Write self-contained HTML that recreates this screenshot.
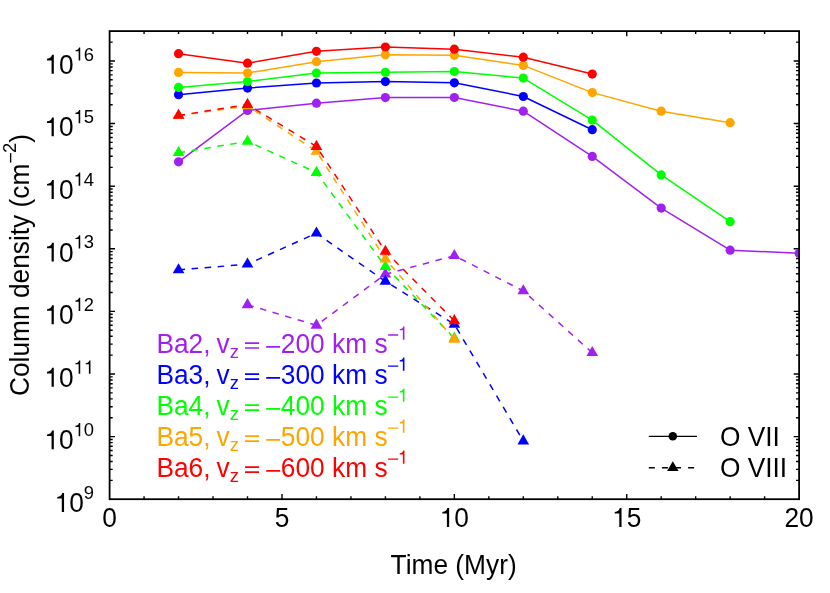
<!DOCTYPE html>
<html><head><meta charset="utf-8"><title>Column density</title>
<style>html,body{margin:0;padding:0;background:#fff;font-family:"Liberation Sans",sans-serif}svg{display:block}</style>
</head><body>
<svg width="830" height="593" viewBox="0 0 830 593">
<defs><clipPath id="pc"><rect x="109.6" y="31.1" width="689.50" height="468.10"/></clipPath></defs>
<rect width="830" height="593" fill="#fff"/>
<path d="M144.07 499.20v-3.0M144.07 31.10v3.0M178.55 499.20v-3.0M178.55 31.10v3.0M213.03 499.20v-3.0M213.03 31.10v3.0M247.50 499.20v-3.0M247.50 31.10v3.0M281.98 499.20v-5.2M281.98 31.10v5.2M316.45 499.20v-3.0M316.45 31.10v3.0M350.93 499.20v-3.0M350.93 31.10v3.0M385.40 499.20v-3.0M385.40 31.10v3.0M419.88 499.20v-3.0M419.88 31.10v3.0M454.35 499.20v-5.2M454.35 31.10v5.2M488.83 499.20v-3.0M488.83 31.10v3.0M523.30 499.20v-3.0M523.30 31.10v3.0M557.77 499.20v-3.0M557.77 31.10v3.0M592.25 499.20v-3.0M592.25 31.10v3.0M626.73 499.20v-5.2M626.73 31.10v5.2M661.20 499.20v-3.0M661.20 31.10v3.0M695.68 499.20v-3.0M695.68 31.10v3.0M730.15 499.20v-3.0M730.15 31.10v3.0M764.62 499.20v-3.0M764.62 31.10v3.0M109.60 480.35h3.1M799.10 480.35h-3.1M109.60 469.33h3.1M799.10 469.33h-3.1M109.60 461.51h3.1M799.10 461.51h-3.1M109.60 455.44h3.1M799.10 455.44h-3.1M109.60 450.48h3.1M799.10 450.48h-3.1M109.60 446.29h3.1M799.10 446.29h-3.1M109.60 442.66h3.1M799.10 442.66h-3.1M109.60 439.46h3.1M799.10 439.46h-3.1M109.60 436.60h5.4M799.10 436.60h-5.4M109.60 417.75h3.1M799.10 417.75h-3.1M109.60 406.73h3.1M799.10 406.73h-3.1M109.60 398.90h3.1M799.10 398.90h-3.1M109.60 392.84h3.1M799.10 392.84h-3.1M109.60 387.88h3.1M799.10 387.88h-3.1M109.60 383.69h3.1M799.10 383.69h-3.1M109.60 380.06h3.1M799.10 380.06h-3.1M109.60 376.86h3.1M799.10 376.86h-3.1M109.60 373.99h5.4M799.10 373.99h-5.4M109.60 355.15h3.1M799.10 355.15h-3.1M109.60 344.12h3.1M799.10 344.12h-3.1M109.60 336.30h3.1M799.10 336.30h-3.1M109.60 330.23h3.1M799.10 330.23h-3.1M109.60 325.28h3.1M799.10 325.28h-3.1M109.60 321.08h3.1M799.10 321.08h-3.1M109.60 317.45h3.1M799.10 317.45h-3.1M109.60 314.25h3.1M799.10 314.25h-3.1M109.60 311.39h5.4M799.10 311.39h-5.4M109.60 292.54h3.1M799.10 292.54h-3.1M109.60 281.52h3.1M799.10 281.52h-3.1M109.60 273.70h3.1M799.10 273.70h-3.1M109.60 267.63h3.1M799.10 267.63h-3.1M109.60 262.67h3.1M799.10 262.67h-3.1M109.60 258.48h3.1M799.10 258.48h-3.1M109.60 254.85h3.1M799.10 254.85h-3.1M109.60 251.65h3.1M799.10 251.65h-3.1M109.60 248.78h5.4M799.10 248.78h-5.4M109.60 229.94h3.1M799.10 229.94h-3.1M109.60 218.91h3.1M799.10 218.91h-3.1M109.60 211.09h3.1M799.10 211.09h-3.1M109.60 205.02h3.1M799.10 205.02h-3.1M109.60 200.07h3.1M799.10 200.07h-3.1M109.60 195.88h3.1M799.10 195.88h-3.1M109.60 192.25h3.1M799.10 192.25h-3.1M109.60 189.04h3.1M799.10 189.04h-3.1M109.60 186.18h5.4M799.10 186.18h-5.4M109.60 167.33h3.1M799.10 167.33h-3.1M109.60 156.31h3.1M799.10 156.31h-3.1M109.60 148.49h3.1M799.10 148.49h-3.1M109.60 142.42h3.1M799.10 142.42h-3.1M109.60 137.46h3.1M799.10 137.46h-3.1M109.60 133.27h3.1M799.10 133.27h-3.1M109.60 129.64h3.1M799.10 129.64h-3.1M109.60 126.44h3.1M799.10 126.44h-3.1M109.60 123.57h5.4M799.10 123.57h-5.4M109.60 104.73h3.1M799.10 104.73h-3.1M109.60 93.70h3.1M799.10 93.70h-3.1M109.60 85.88h3.1M799.10 85.88h-3.1M109.60 79.82h3.1M799.10 79.82h-3.1M109.60 74.86h3.1M799.10 74.86h-3.1M109.60 70.67h3.1M799.10 70.67h-3.1M109.60 67.04h3.1M799.10 67.04h-3.1M109.60 63.83h3.1M799.10 63.83h-3.1M109.60 60.97h5.4M799.10 60.97h-5.4M109.60 42.12h3.1M799.10 42.12h-3.1" stroke="#000" stroke-width="1.4" fill="none"/>
<g clip-path="url(#pc)">
<polyline points="178.55,161.80 247.50,110.40 316.45,103.20 385.40,97.60 454.35,97.50 523.30,111.20 592.25,156.40 661.20,208.10 730.15,250.20 799.10,253.20" fill="none" stroke="#a020f0" stroke-width="1.5" stroke-linejoin="round"/>
<circle cx="178.55" cy="161.80" r="4.6" fill="#a020f0"/>
<circle cx="247.50" cy="110.40" r="4.6" fill="#a020f0"/>
<circle cx="316.45" cy="103.20" r="4.6" fill="#a020f0"/>
<circle cx="385.40" cy="97.60" r="4.6" fill="#a020f0"/>
<circle cx="454.35" cy="97.50" r="4.6" fill="#a020f0"/>
<circle cx="523.30" cy="111.20" r="4.6" fill="#a020f0"/>
<circle cx="592.25" cy="156.40" r="4.6" fill="#a020f0"/>
<circle cx="661.20" cy="208.10" r="4.6" fill="#a020f0"/>
<circle cx="730.15" cy="250.20" r="4.6" fill="#a020f0"/>
<circle cx="799.10" cy="253.20" r="4.6" fill="#a020f0"/>
<polyline points="247.50,304.80 316.45,325.30 385.40,274.20 454.35,255.70 523.30,290.90 592.25,352.70" fill="none" stroke="#a020f0" stroke-width="1.5" stroke-dasharray="6.5 6.6"/>
<polygon points="247.50,298.05 241.65,308.18 253.35,308.18" fill="#a020f0"/>
<polygon points="316.45,318.55 310.60,328.68 322.30,328.68" fill="#a020f0"/>
<polygon points="385.40,267.45 379.55,277.58 391.25,277.58" fill="#a020f0"/>
<polygon points="454.35,248.95 448.50,259.08 460.20,259.08" fill="#a020f0"/>
<polygon points="523.30,284.15 517.45,294.28 529.15,294.28" fill="#a020f0"/>
<polygon points="592.25,345.95 586.40,356.08 598.10,356.08" fill="#a020f0"/>
<polyline points="178.55,94.70 247.50,88.10 316.45,83.00 385.40,81.60 454.35,82.80 523.30,96.50 592.25,129.70" fill="none" stroke="#0000ff" stroke-width="1.5" stroke-linejoin="round"/>
<circle cx="178.55" cy="94.70" r="4.6" fill="#0000ff"/>
<circle cx="247.50" cy="88.10" r="4.6" fill="#0000ff"/>
<circle cx="316.45" cy="83.00" r="4.6" fill="#0000ff"/>
<circle cx="385.40" cy="81.60" r="4.6" fill="#0000ff"/>
<circle cx="454.35" cy="82.80" r="4.6" fill="#0000ff"/>
<circle cx="523.30" cy="96.50" r="4.6" fill="#0000ff"/>
<circle cx="592.25" cy="129.70" r="4.6" fill="#0000ff"/>
<polyline points="178.55,269.90 247.50,264.20 316.45,233.20 385.40,281.30 454.35,324.30 523.30,441.00" fill="none" stroke="#0000ff" stroke-width="1.5" stroke-dasharray="6.5 6.6"/>
<polygon points="178.55,263.15 172.70,273.28 184.40,273.28" fill="#0000ff"/>
<polygon points="247.50,257.45 241.65,267.58 253.35,267.58" fill="#0000ff"/>
<polygon points="316.45,226.45 310.60,236.58 322.30,236.58" fill="#0000ff"/>
<polygon points="385.40,274.55 379.55,284.68 391.25,284.68" fill="#0000ff"/>
<polygon points="454.35,317.55 448.50,327.68 460.20,327.68" fill="#0000ff"/>
<polygon points="523.30,434.25 517.45,444.38 529.15,444.38" fill="#0000ff"/>
<polyline points="178.55,87.40 247.50,81.50 316.45,73.00 385.40,72.30 454.35,71.50 523.30,78.10 592.25,120.10 661.20,174.90 730.15,221.70" fill="none" stroke="#00ff00" stroke-width="1.5" stroke-linejoin="round"/>
<circle cx="178.55" cy="87.40" r="4.6" fill="#00ff00"/>
<circle cx="247.50" cy="81.50" r="4.6" fill="#00ff00"/>
<circle cx="316.45" cy="73.00" r="4.6" fill="#00ff00"/>
<circle cx="385.40" cy="72.30" r="4.6" fill="#00ff00"/>
<circle cx="454.35" cy="71.50" r="4.6" fill="#00ff00"/>
<circle cx="523.30" cy="78.10" r="4.6" fill="#00ff00"/>
<circle cx="592.25" cy="120.10" r="4.6" fill="#00ff00"/>
<circle cx="661.20" cy="174.90" r="4.6" fill="#00ff00"/>
<circle cx="730.15" cy="221.70" r="4.6" fill="#00ff00"/>
<polyline points="178.55,152.70 247.50,141.40 316.45,172.50 385.40,266.60 454.35,338.30" fill="none" stroke="#00ff00" stroke-width="1.5" stroke-dasharray="6.5 6.6"/>
<polygon points="178.55,145.95 172.70,156.08 184.40,156.08" fill="#00ff00"/>
<polygon points="247.50,134.65 241.65,144.78 253.35,144.78" fill="#00ff00"/>
<polygon points="316.45,165.75 310.60,175.88 322.30,175.88" fill="#00ff00"/>
<polygon points="385.40,259.85 379.55,269.98 391.25,269.98" fill="#00ff00"/>
<polygon points="454.35,331.55 448.50,341.68 460.20,341.68" fill="#00ff00"/>
<polyline points="178.55,72.40 247.50,73.00 316.45,61.70 385.40,54.80 454.35,55.30 523.30,65.40 592.25,92.60 661.20,111.20 730.15,122.70" fill="none" stroke="#ffa500" stroke-width="1.5" stroke-linejoin="round"/>
<circle cx="178.55" cy="72.40" r="4.6" fill="#ffa500"/>
<circle cx="247.50" cy="73.00" r="4.6" fill="#ffa500"/>
<circle cx="316.45" cy="61.70" r="4.6" fill="#ffa500"/>
<circle cx="385.40" cy="54.80" r="4.6" fill="#ffa500"/>
<circle cx="454.35" cy="55.30" r="4.6" fill="#ffa500"/>
<circle cx="523.30" cy="65.40" r="4.6" fill="#ffa500"/>
<circle cx="592.25" cy="92.60" r="4.6" fill="#ffa500"/>
<circle cx="661.20" cy="111.20" r="4.6" fill="#ffa500"/>
<circle cx="730.15" cy="122.70" r="4.6" fill="#ffa500"/>
<polyline points="178.55,115.70 247.50,105.90 316.45,151.30 385.40,259.00 454.35,339.30" fill="none" stroke="#ffa500" stroke-width="1.5" stroke-dasharray="6.5 6.6"/>
<polygon points="178.55,108.95 172.70,119.08 184.40,119.08" fill="#ffa500"/>
<polygon points="247.50,99.15 241.65,109.28 253.35,109.28" fill="#ffa500"/>
<polygon points="316.45,144.55 310.60,154.68 322.30,154.68" fill="#ffa500"/>
<polygon points="385.40,252.25 379.55,262.38 391.25,262.38" fill="#ffa500"/>
<polygon points="454.35,332.55 448.50,342.68 460.20,342.68" fill="#ffa500"/>
<polyline points="178.55,53.70 247.50,63.20 316.45,51.30 385.40,47.00 454.35,49.20 523.30,57.20 592.25,74.10" fill="none" stroke="#ff0000" stroke-width="1.5" stroke-linejoin="round"/>
<circle cx="178.55" cy="53.70" r="4.6" fill="#ff0000"/>
<circle cx="247.50" cy="63.20" r="4.6" fill="#ff0000"/>
<circle cx="316.45" cy="51.30" r="4.6" fill="#ff0000"/>
<circle cx="385.40" cy="47.00" r="4.6" fill="#ff0000"/>
<circle cx="454.35" cy="49.20" r="4.6" fill="#ff0000"/>
<circle cx="523.30" cy="57.20" r="4.6" fill="#ff0000"/>
<circle cx="592.25" cy="74.10" r="4.6" fill="#ff0000"/>
<polyline points="178.55,115.40 247.50,104.60 316.45,146.50 385.40,251.40 454.35,320.80" fill="none" stroke="#ff0000" stroke-width="1.5" stroke-dasharray="6.5 6.6"/>
<polygon points="178.55,108.65 172.70,118.78 184.40,118.78" fill="#ff0000"/>
<polygon points="247.50,97.85 241.65,107.98 253.35,107.98" fill="#ff0000"/>
<polygon points="316.45,139.75 310.60,149.88 322.30,149.88" fill="#ff0000"/>
<polygon points="385.40,244.65 379.55,254.78 391.25,254.78" fill="#ff0000"/>
<polygon points="454.35,314.05 448.50,324.18 460.20,324.18" fill="#ff0000"/>
</g>
<rect x="109.6" y="31.1" width="689.50" height="468.10" fill="none" stroke="#000" stroke-width="1.8"/>
<g font-family="'Liberation Sans', sans-serif" font-size="26.3" fill="#000" opacity="0.999"><text transform="translate(94.10 511.95) scale(1 1.04)" text-anchor="end">  0<tspan font-size="18.4" dy="-12.60">9</tspan></text>
<text transform="translate(94.10 449.35) scale(1 1.04)" text-anchor="end">  0<tspan font-size="18.4" dy="-12.60">  0</tspan></text>
<text transform="translate(94.10 386.74) scale(1 1.04)" text-anchor="end">  0<tspan font-size="18.4" dy="-12.60">    </tspan></text>
<text transform="translate(94.10 324.14) scale(1 1.04)" text-anchor="end">  0<tspan font-size="18.4" dy="-12.60">  2</tspan></text>
<text transform="translate(94.10 261.53) scale(1 1.04)" text-anchor="end">  0<tspan font-size="18.4" dy="-12.60">  3</tspan></text>
<text transform="translate(94.10 198.93) scale(1 1.04)" text-anchor="end">  0<tspan font-size="18.4" dy="-12.60">  4</tspan></text>
<text transform="translate(94.10 136.32) scale(1 1.04)" text-anchor="end">  0<tspan font-size="18.4" dy="-12.60">  5</tspan></text>
<text transform="translate(94.10 73.72) scale(1 1.04)" text-anchor="end">  0<tspan font-size="18.4" dy="-12.60">  6</tspan></text>
<text transform="translate(109.60 526.90) scale(1 1.04)" text-anchor="middle">0</text>
<text transform="translate(281.98 526.90) scale(1 1.04)" text-anchor="middle">5</text>
<text transform="translate(454.35 526.90) scale(1 1.04)" text-anchor="middle">  0</text>
<text transform="translate(626.73 526.90) scale(1 1.04)" text-anchor="middle">  5</text>
<text transform="translate(799.10 526.90) scale(1 1.04)" text-anchor="middle">20</text>
<text transform="translate(390.60 573.70) scale(1 1.04)" >Time (Myr)</text>
<text transform="translate(29.15 396.0) rotate(-90) scale(1 1.04)">Column density (cm<tspan font-size="18.4" dy="-12.60" dx="10.75">2</tspan><tspan dy="12.60">)</tspan></text>
<text transform="translate(0.00 352.80) scale(1 1.04)" fill="#a020f0"><tspan x="156.44" y="0">Ba2,</tspan><tspan x="216.5" y="0">v</tspan><tspan x="229.85" y="5.10" font-size="18.4">z</tspan><tspan x="280.86" y="0">200 km s</tspan></text>
<text transform="translate(0.00 383.83) scale(1 1.04)" fill="#0000ff"><tspan x="156.44" y="0">Ba3,</tspan><tspan x="216.5" y="0">v</tspan><tspan x="229.85" y="5.10" font-size="18.4">z</tspan><tspan x="280.86" y="0">300 km s</tspan></text>
<text transform="translate(0.00 414.86) scale(1 1.04)" fill="#00ff00"><tspan x="156.44" y="0">Ba4,</tspan><tspan x="216.5" y="0">v</tspan><tspan x="229.85" y="5.10" font-size="18.4">z</tspan><tspan x="280.86" y="0">400 km s</tspan></text>
<text transform="translate(0.00 445.89) scale(1 1.04)" fill="#ffa500"><tspan x="156.44" y="0">Ba5,</tspan><tspan x="216.5" y="0">v</tspan><tspan x="229.85" y="5.10" font-size="18.4">z</tspan><tspan x="280.86" y="0">500 km s</tspan></text>
<text transform="translate(0.00 476.92) scale(1 1.04)" fill="#ff0000"><tspan x="156.44" y="0">Ba6,</tspan><tspan x="216.5" y="0">v</tspan><tspan x="229.85" y="5.10" font-size="18.4">z</tspan><tspan x="280.86" y="0">600 km s</tspan></text>
<text transform="translate(719.90 445.75) scale(1 1.04)" >O VII</text>
<text transform="translate(719.90 476.80) scale(1 1.04)" >O VIII</text>
<path d="M61.79 511.95L61.79 498.61L57.27 498.61L57.27 496.98C60.27 496.64 61.50 495.84 62.29 493.07L64.06 493.07L64.06 511.95Z"/>
<path d="M51.56 449.35L51.56 436.00L47.04 436.00L47.04 434.38C50.03 434.03 51.27 433.23 52.06 430.46L53.82 430.46L53.82 449.35Z"/>
<path d="M78.66 436.25L78.66 426.91L75.49 426.91L75.49 425.77C77.59 425.53 78.45 424.97 79.01 423.03L80.24 423.03L80.24 436.25Z"/>
<path d="M51.56 386.74L51.56 373.40L47.04 373.40L47.04 371.77C50.03 371.43 51.27 370.63 52.06 367.86L53.82 367.86L53.82 386.74Z"/>
<path d="M78.66 373.64L78.66 364.31L75.49 364.31L75.49 363.17C77.59 362.93 78.45 362.37 79.01 360.43L80.24 360.43L80.24 373.64Z"/>
<path d="M88.89 373.64L88.89 364.31L85.73 364.31L85.73 363.17C87.82 362.93 88.69 362.37 89.24 360.43L90.47 360.43L90.47 373.64Z"/>
<path d="M51.56 324.14L51.56 310.79L47.04 310.79L47.04 309.17C50.03 308.82 51.27 308.02 52.06 305.25L53.82 305.25L53.82 324.14Z"/>
<path d="M78.66 311.04L78.66 301.70L75.49 301.70L75.49 300.57C77.59 300.32 78.45 299.76 79.01 297.83L80.24 297.83L80.24 311.04Z"/>
<path d="M51.56 261.53L51.56 248.19L47.04 248.19L47.04 246.56C50.03 246.22 51.27 245.42 52.06 242.65L53.82 242.65L53.82 261.53Z"/>
<path d="M78.66 248.43L78.66 239.10L75.49 239.10L75.49 237.96C77.59 237.72 78.45 237.16 79.01 235.22L80.24 235.22L80.24 248.43Z"/>
<path d="M51.56 198.93L51.56 185.58L47.04 185.58L47.04 183.96C50.03 183.61 51.27 182.81 52.06 180.05L53.82 180.05L53.82 198.93Z"/>
<path d="M78.66 185.83L78.66 176.49L75.49 176.49L75.49 175.36C77.59 175.11 78.45 174.56 79.01 172.62L80.24 172.62L80.24 185.83Z"/>
<path d="M51.56 136.32L51.56 122.98L47.04 122.98L47.04 121.36C50.03 121.01 51.27 120.21 52.06 117.44L53.82 117.44L53.82 136.32Z"/>
<path d="M78.66 123.22L78.66 113.89L75.49 113.89L75.49 112.75C77.59 112.51 78.45 111.95 79.01 110.01L80.24 110.01L80.24 123.22Z"/>
<path d="M51.56 73.72L51.56 60.38L47.04 60.38L47.04 58.75C50.03 58.41 51.27 57.61 52.06 54.84L53.82 54.84L53.82 73.72Z"/>
<path d="M78.66 60.62L78.66 51.28L75.49 51.28L75.49 50.15C77.59 49.91 78.45 49.35 79.01 47.41L80.24 47.41L80.24 60.62Z"/>
<path d="M446.90 526.90L446.90 513.56L442.38 513.56L442.38 511.93C445.38 511.59 446.61 510.79 447.40 508.02L449.16 508.02L449.16 526.90Z"/>
<path d="M619.28 526.90L619.28 513.56L614.75 513.56L614.75 511.93C617.75 511.59 618.99 510.79 619.78 508.02L621.54 508.02L621.54 526.90Z"/>
<rect x="9.95" y="153.1" width="1.35" height="9.5"/>
<path d="M402.87 339.70L402.87 330.36L399.71 330.36L399.71 329.23C401.81 328.99 402.67 328.43 403.22 326.49L404.46 326.49L404.46 339.70Z" fill="#a020f0"/>
<path fill="#a020f0" d="M245 342.25h14.1v1.7h-14.1zM245 347.15h14.1v1.7h-14.1zM266.2 345.95h13.9v1.7h-13.9zM388.1 334.35h10.1v1.3h-10.1z"/>
<path d="M402.87 370.73L402.87 361.39L399.71 361.39L399.71 360.26C401.81 360.02 402.67 359.46 403.22 357.52L404.46 357.52L404.46 370.73Z" fill="#0000ff"/>
<path fill="#0000ff" d="M245 373.28h14.1v1.7h-14.1zM245 378.18h14.1v1.7h-14.1zM266.2 376.98h13.9v1.7h-13.9zM388.1 365.38h10.1v1.3h-10.1z"/>
<path d="M402.87 401.76L402.87 392.42L399.71 392.42L399.71 391.29C401.81 391.05 402.67 390.49 403.22 388.55L404.46 388.55L404.46 401.76Z" fill="#00ff00"/>
<path fill="#00ff00" d="M245 404.31h14.1v1.7h-14.1zM245 409.21h14.1v1.7h-14.1zM266.2 408.01h13.9v1.7h-13.9zM388.1 396.41h10.1v1.3h-10.1z"/>
<path d="M402.87 432.79L402.87 423.45L399.71 423.45L399.71 422.32C401.81 422.08 402.67 421.52 403.22 419.58L404.46 419.58L404.46 432.79Z" fill="#ffa500"/>
<path fill="#ffa500" d="M245 435.34h14.1v1.7h-14.1zM245 440.24h14.1v1.7h-14.1zM266.2 439.04h13.9v1.7h-13.9zM388.1 427.44h10.1v1.3h-10.1z"/>
<path d="M402.87 463.82L402.87 454.48L399.71 454.48L399.71 453.35C401.81 453.11 402.67 452.55 403.22 450.61L404.46 450.61L404.46 463.82Z" fill="#ff0000"/>
<path fill="#ff0000" d="M245 466.37h14.1v1.7h-14.1zM245 471.27h14.1v1.7h-14.1zM266.2 470.07h13.9v1.7h-13.9zM388.1 458.47h10.1v1.3h-10.1z"/></g>
<path d="M648.8 436.4H697" stroke="#000" stroke-width="1.3" fill="none"/>
<circle cx="672.8" cy="436.3" r="4.3" fill="#000"/>
<path d="M648.8 467.75H697" stroke="#000" stroke-width="1.3" stroke-dasharray="6 7.1" fill="none"/>
<polygon points="672.80,461.16 667.05,471.12 678.55,471.12" fill="#000"/>
</svg>
</body></html>
